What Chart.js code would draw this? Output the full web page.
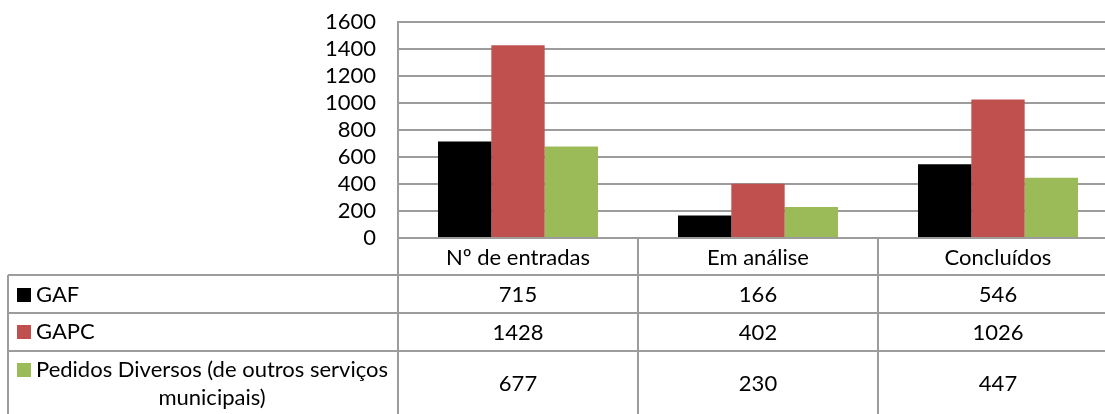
<!DOCTYPE html>
<html>
<head>
<meta charset="utf-8">
<script src="https://cdn.jsdelivr.net/npm/chart.js@4.4.1/dist/chart.umd.min.js"></script>
<style>
  html, body { margin: 0; padding: 0; background: #fff; overflow: hidden; }
  #wrap { width: 1120px; height: 414px; position: relative; }
</style>
</head>
<body>
<div id="wrap"><canvas id="chart"></canvas></div>
<script>
const categories = ['Nº de entradas', 'Em análise', 'Concluídos'];
const gaf = [715, 166, 546];
const gapc = [1428, 402, 1026];
const pedidos = [677, 230, 447];
const seriesNames = ['GAF', 'GAPC', 'Pedidos Diversos (de outros serviços municipais)'];
const seriesColors = ['#000000', '#C0504D', '#9BBB59'];

const gridColor = '#9c9c9c';
const fontFamily = 'Lato, "Noto Sans", sans-serif';
const fontSize = 22;

// data table under the plot, laid out from the x scale
const dataTable = {
    id: 'dataTable',
    afterDraw(chart) {
        const ctx = chart.ctx;
        const area = chart.chartArea;
        const x = chart.scales.x;
        const colW = (area.right - area.left) / categories.length;
        const tableLeft = 8;
        const rows = [area.bottom, 275, 313, 351, chart.height];
        const right = chart.width;

        ctx.save();
        ctx.strokeStyle = gridColor;
        ctx.lineWidth = 2;

        // horizontal rules
        for (let i = 1; i < rows.length - 1; i++) {
            ctx.beginPath();
            ctx.moveTo(tableLeft, rows[i]);
            ctx.lineTo(right, rows[i]);
            ctx.stroke();
        }
        // left edge of the legend column
        ctx.beginPath();
        ctx.moveTo(tableLeft, rows[1]);
        ctx.lineTo(tableLeft, rows[rows.length - 1]);
        ctx.stroke();
        // column dividers
        for (let i = 0; i <= categories.length; i++) {
            const cx = area.left + i * colW;
            ctx.beginPath();
            ctx.moveTo(cx, area.bottom);
            ctx.lineTo(cx, rows[rows.length - 1]);
            ctx.stroke();
        }

        ctx.fillStyle = '#000';
        ctx.font = fontSize + 'px ' + fontFamily;
        ctx.textAlign = 'center';
        ctx.textBaseline = 'middle';

        // header row
        categories.forEach((c, i) => {
            ctx.fillText(c, x.getPixelForValue(i), (rows[0] + rows[1]) / 2 + 1);
        });

        // value rows
        chart.data.datasets.forEach((ds, r) => {
            const mid = (rows[r + 1] + rows[r + 2]) / 2 + 1;
            ds.data.forEach((v, i) => {
                ctx.fillText(String(v), x.getPixelForValue(i), mid);
            });
        });

        // legend keys and series names
        ctx.textAlign = 'left';
        const keyX = 17, keySize = 14, textX = 36;
        ctx.fillStyle = seriesColors[0];
        ctx.fillRect(keyX, 288, keySize, keySize);
        ctx.fillStyle = '#000';
        ctx.fillText(seriesNames[0], textX, 295);

        ctx.fillStyle = seriesColors[1];
        ctx.fillRect(keyX, 325, keySize, keySize);
        ctx.fillStyle = '#000';
        ctx.fillText(seriesNames[1], textX, 332);

        const line1 = 'Pedidos Diversos (de outros serviços';
        const line2 = 'municipais)';
        ctx.fillStyle = seriesColors[2];
        ctx.fillRect(keyX, 363, keySize, keySize);
        ctx.fillStyle = '#000';
        ctx.fillText(line1, textX, 370);
        const w1 = ctx.measureText(line1).width;
        ctx.textAlign = 'center';
        ctx.fillText(line2, textX + w1 / 2, 398);

        ctx.restore();
    }
};

new Chart(document.getElementById('chart'), {
    type: 'bar',
    data: {
        labels: categories,
        datasets: [
            { label: seriesNames[0], data: gaf, backgroundColor: seriesColors[0] },
            { label: seriesNames[1], data: gapc, backgroundColor: seriesColors[1] },
            { label: seriesNames[2], data: pedidos, backgroundColor: seriesColors[2] }
        ]
    },
    options: {
        responsive: true,
        maintainAspectRatio: false,
        animation: false,
        layout: { padding: { top: 22, right: 2, bottom: 176, left: 0 } },
        datasets: { bar: { categoryPercentage: 0.6667, barPercentage: 1 } },
        plugins: { legend: { display: false }, tooltip: { enabled: false } },
        scales: {
            x: { display: false },
            y: {
                min: 0,
                max: 1600,
                ticks: {
                    stepSize: 200,
                    autoSkip: false,
                    padding: 22,
                    color: '#000',
                    font: { family: fontFamily, size: fontSize, lineHeight: 1 },
                    callback: v => String(v)
                },
                grid: { color: gridColor, lineWidth: 2, drawTicks: false },
                border: { display: true, color: gridColor, width: 2 },
                afterFit(scale) {
                    scale.width = 398;
                    scale.paddingTop = 0;
                    scale.paddingBottom = 0;
                }
            }
        }
    },
    plugins: [dataTable]
});
</script>
</body>
</html>
